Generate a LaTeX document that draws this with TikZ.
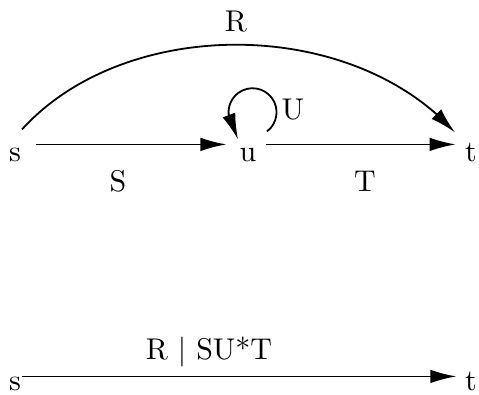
\documentclass[tikz,border=0pt]{standalone}
\usetikzlibrary{arrows.meta,bending}

\tikzset{
  arr/.style={-{Latex[length=13pt,width=6.8pt]}, line width=0.9pt},
  txt/.style={font=\fontsize{10}{12}\selectfont, scale=1.5, transform shape},
  vert/.style={txt, anchor=base, inner xsep=3pt, inner ysep=1.35pt,
    text height=4.31pt, text depth=0pt},
  lbl/.style={txt, anchor=base, inner sep=0pt}
}

\begin{document}
\begin{tikzpicture}[x=0.5pt, y=0.5pt]
\useasboundingbox (0,0) rectangle (479,395);

% upper graph
\node[vert] (s) at (15,233) {s};
\node[vert] (u) at (248,233) {u};
\node[vert] (t) at (471,233) {t};

\draw[arr, shorten <=2.5pt, shorten >=1.8pt] (s.north east) -- (u.north west);
\draw[arr] (u.north east) -- (t.north west);
\draw[arr] ([shift={(7,15)}]s.north) .. controls (125,379) and (350,379) .. ([shift={(-16,12)}]t.north);
\draw[arr] ([shift={(19,13)}]u.north) arc[start angle=-53, end angle=185, radius=24]
  -- ([shift={(-10,5)}]u.north);

\node[lbl] (R) at (236,363) {R};
\node[lbl] (S) at (118,203) {S};
\node[lbl] (T) at (365,203) {T};
\node[lbl] (U) at (293,275) {U};

% lower graph
\node[vert, inner xsep=0pt, inner ysep=0.35pt] (s2) at (15,4) {s};
\node[vert, inner xsep=0pt, inner ysep=0.35pt] (t2) at (471,4) {t};
\draw[arr, shorten >=4.1pt] (s2.north east) -- (t2.north west);
\node[lbl] (RST) at (209,35) {R | SU*T};
\end{tikzpicture}
\end{document}
